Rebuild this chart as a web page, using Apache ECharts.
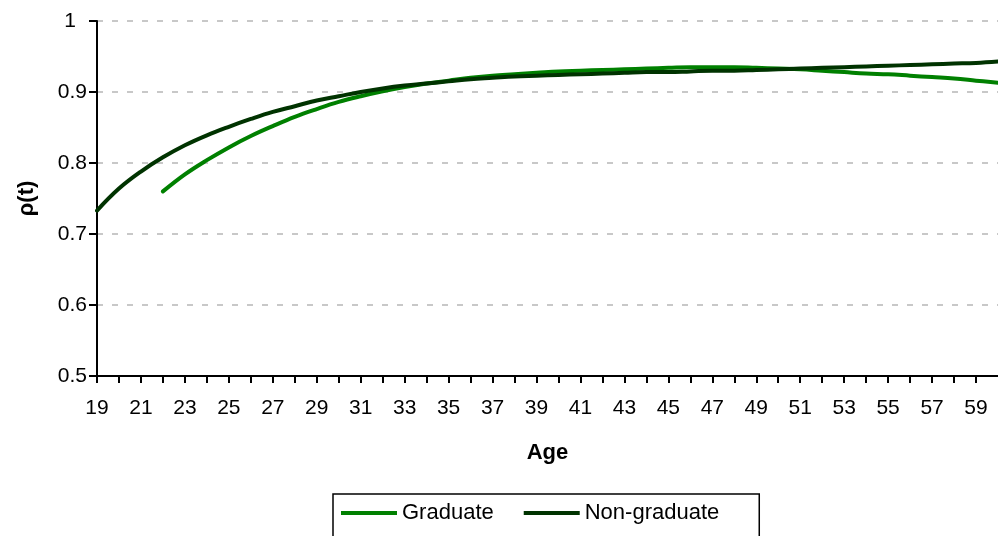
<!DOCTYPE html>
<html>
<head>
<meta charset="utf-8">
<script src="https://cdn.jsdelivr.net/npm/echarts@6/dist/echarts.min.js"></script>
<style>html,body{margin:0;padding:0;background:#fff;}#c{width:998px;height:536px;}</style>
</head>
<body>
<div id="c"></div>
<script>
var ages = [19,20,21,22,23,24,25,26,27,28,29,30,31,32,33,34,35,36,37,38,39,40,41,42,43,44,45,46,47,48,49,50,51,52,53,54,55,56,57,58,59,60];
var graduateAges = [22,23,24,25,26,27,28,29,30,31,32,33,34,35,36,37,38,39,40,41,42,43,44,45,46,47,48,49,50,51,52,53,54,55,56,57,58,59,60];
var graduate = [0.760,0.784,0.804,0.822,0.838,0.852,0.865,0.876,0.886,0.894,0.901,0.907,0.912,0.916,0.920,0.923,0.925,0.927,0.929,0.930,0.931,0.932,0.933,0.934,0.935,0.935,0.935,0.934,0.933,0.932,0.930,0.928,0.926,0.925,0.923,0.921,0.919,0.916,0.913];
var nonGraduate = [0.733,0.764,0.788,0.808,0.825,0.839,0.851,0.862,0.872,0.880,0.888,0.894,0.900,0.905,0.909,0.912,0.915,0.918,0.920,0.922,0.923,0.924,0.925,0.926,0.927,0.928,0.928,0.929,0.930,0.930,0.931,0.932,0.933,0.934,0.935,0.936,0.937,0.938,0.939,0.940,0.941,0.943];
var yTicks = [0.5,0.6,0.7,0.8,0.9,1];

var chart = echarts.init(document.getElementById('c'));
var font = 'Arial, "Liberation Sans", sans-serif';
chart.setOption({
  animation: false,
  textStyle: {fontFamily: font},
  grid: {left: 97, right: -3, top: 21, bottom: 160},
  xAxis: {
    type: 'value', min: 19, max: 60, interval: 1,
    name: 'Age', nameLocation: 'middle', nameGap: 66,
    nameTextStyle: {fontFamily: font, fontSize: 22, fontWeight: 'bold', color: '#000'},
    axisLine: {lineStyle: {color: '#000', width: 2}},
    axisTick: {show: true, length: 7, lineStyle: {color: '#000', width: 2}},
    axisLabel: {
      margin: 22, fontFamily: font, fontSize: 21, color: '#000',
      showMaxLabel: false,
      formatter: function (v) { return ((v - 19) % 2 === 0 && v < 60) ? String(v) : ''; }
    },
    splitLine: {show: false}
  },
  yAxis: {
    type: 'value', min: 0.5, max: 1, interval: 0.1,
    name: 'ρ(t)', nameLocation: 'middle', nameGap: 59,
    nameTextStyle: {fontFamily: font, fontSize: 22, fontWeight: 'bold', color: '#000'},
    axisLine: {show: true, lineStyle: {color: '#000', width: 2}},
    axisTick: {show: true, length: 8, lineStyle: {color: '#000', width: 2}},
    axisLabel: {
      margin: 10, fontFamily: font, fontSize: 21, color: '#000',
      rich: {one: {fontFamily: font, fontSize: 21, color: '#000', padding: [0, 11, 0, 0]}},
      formatter: function (v) { var r = Math.round(v * 10) / 10; if (yTicks.indexOf(r) < 0) return ''; return r === 1 ? '{one|1}' : r.toFixed(1); }
    },
    splitLine: {show: true, lineStyle: {color: '#c8c8c8', width: 2, type: [6, 9]}}
  },
  legend: {
    left: 333, top: 494,
    padding: [8, 40, 30, 8],
    borderColor: '#000', borderWidth: 1.5,
    itemGap: 30,
    icon: 'rect', itemWidth: 56, itemHeight: 4,
    textStyle: {fontFamily: font, fontSize: 22, color: '#000'},
    data: ['Graduate', 'Non-graduate']
  },
  series: [
    {
      name: 'Graduate', type: 'line', smooth: 0.4, showSymbol: false,
      color: '#008000',
      lineStyle: {color: '#008000', width: 4, cap: 'round'},
      data: graduateAges.map(function (a, i) { return [a, graduate[i]]; })
    },
    {
      name: 'Non-graduate', type: 'line', smooth: 0.4, showSymbol: false,
      color: '#003300',
      lineStyle: {color: '#003300', width: 4, cap: 'round'},
      data: ages.map(function (a, i) { return [a, nonGraduate[i]]; })
    }
  ]
});
</script>
</body>
</html>
